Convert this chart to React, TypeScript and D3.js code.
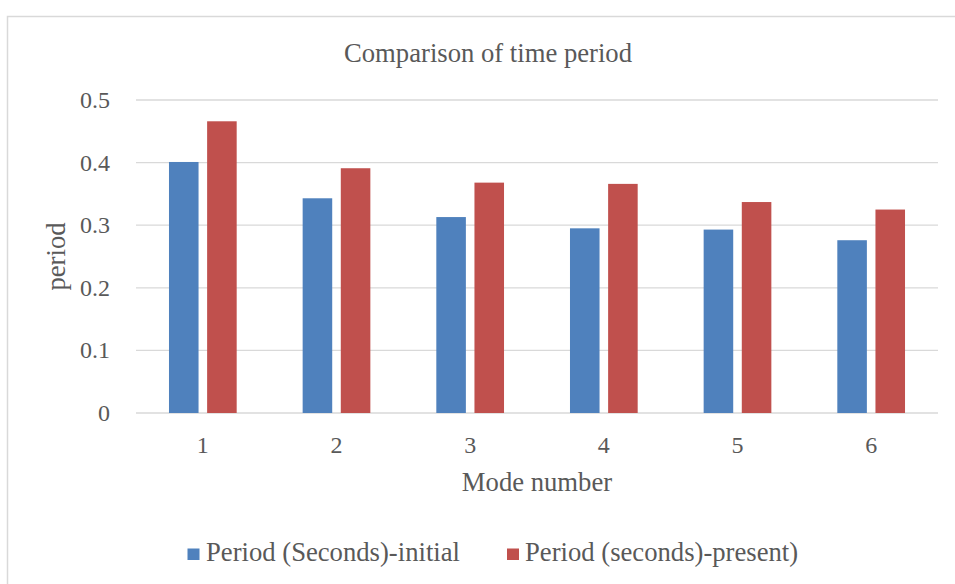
import * as d3 from 'd3'

const MODES = ['1', '2', '3', '4', '5', '6']
const SERIES = ['Period (Seconds)-initial', 'Period (seconds)-present)']
const INITIAL = [0.401, 0.343, 0.313, 0.295, 0.293, 0.276]
const PRESENT = [0.466, 0.391, 0.368, 0.366, 0.337, 0.325]
const Y_TICKS = [0, 0.1, 0.2, 0.3, 0.4, 0.5]
const COLORS = ['#4f81bd', '#c0504d']

const WIDTH = 955
const HEIGHT = 584
const PLOT = { left: 136, right: 938, top: 100, bottom: 413 }
const FONT = '"Liberation Serif", "Times New Roman", serif'
const TEXT = '#595959'
const GRID = '#d9d9d9'

export default function App() {
  const x0 = d3
    .scaleBand<string>()
    .domain(MODES)
    .range([PLOT.left, PLOT.right])
    .paddingInner(0.4935)
    .paddingOuter(0.4935 / 2)
  const x1 = d3
    .scaleBand<string>()
    .domain(SERIES)
    .range([0, x0.bandwidth()])
    .paddingInner(0.225)
  const y = d3.scaleLinear().domain([0, 0.5]).range([PLOT.bottom, PLOT.top])
  const values = [INITIAL, PRESENT]
  const mid = (x0.range()[0] + x0.range()[1]) / 2

  // legend entries: swatch + label, widths
  const legend = [
    { sx: 187.5, tx: 206 },
    { sx: 507, tx: 525 },
  ]

  return (
    <div style={{ position: 'fixed', left: 0, top: 0, width: WIDTH, height: HEIGHT, background: '#fff' }}>
      <svg width={WIDTH} height={HEIGHT} style={{ display: 'block', fontFamily: FONT }}>
        <rect x={0} y={0} width={WIDTH} height={HEIGHT} fill="#fff" />
        <rect x={7.5} y={16.5} width={962} height={640} fill="#fff" stroke={GRID} strokeWidth={1.5} />

        <text x={488} y={62} textAnchor="middle" fontSize={26.67} fill={TEXT}>
          Comparison of time period
        </text>

        {Y_TICKS.map((t) => (
          <g key={t}>
            <line x1={PLOT.left} x2={PLOT.right} y1={y(t)} y2={y(t)} stroke={GRID} strokeWidth={1.3} />
            <text x={110} y={y(t) + 8} textAnchor="end" fontSize={24} fill={TEXT}>
              {t === 0 ? '0' : t.toFixed(1)}
            </text>
          </g>
        ))}

        {MODES.map((m, i) => (
          <g key={m}>
            {SERIES.map((s, j) => (
              <rect
                key={s}
                x={(x0(m) ?? 0) + (x1(s) ?? 0)}
                y={y(values[j][i])}
                width={x1.bandwidth()}
                height={y(0) - y(values[j][i])}
                fill={COLORS[j]}
              />
            ))}
            <text
              x={(x0(m) ?? 0) + x0.bandwidth() / 2}
              y={452.5}
              textAnchor="middle"
              fontSize={24}
              fill={TEXT}
            >
              {m}
            </text>
          </g>
        ))}

        <text x={mid} y={491} textAnchor="middle" fontSize={26.67} fill={TEXT}>
          Mode number
        </text>
        <text
          transform={`translate(65 ${(PLOT.top + PLOT.bottom) / 2}) rotate(-90)`}
          textAnchor="middle"
          fontSize={26.67}
          fill={TEXT}
        >
          period
        </text>

        {SERIES.map((s, j) => (
          <g key={s}>
            <rect x={legend[j].sx} y={548.5} width={12} height={11.5} fill={COLORS[j]} />
            <text x={legend[j].tx} y={561} fontSize={26.67} fill={TEXT}>
              {s}
            </text>
          </g>
        ))}
      </svg>
    </div>
  )
}
